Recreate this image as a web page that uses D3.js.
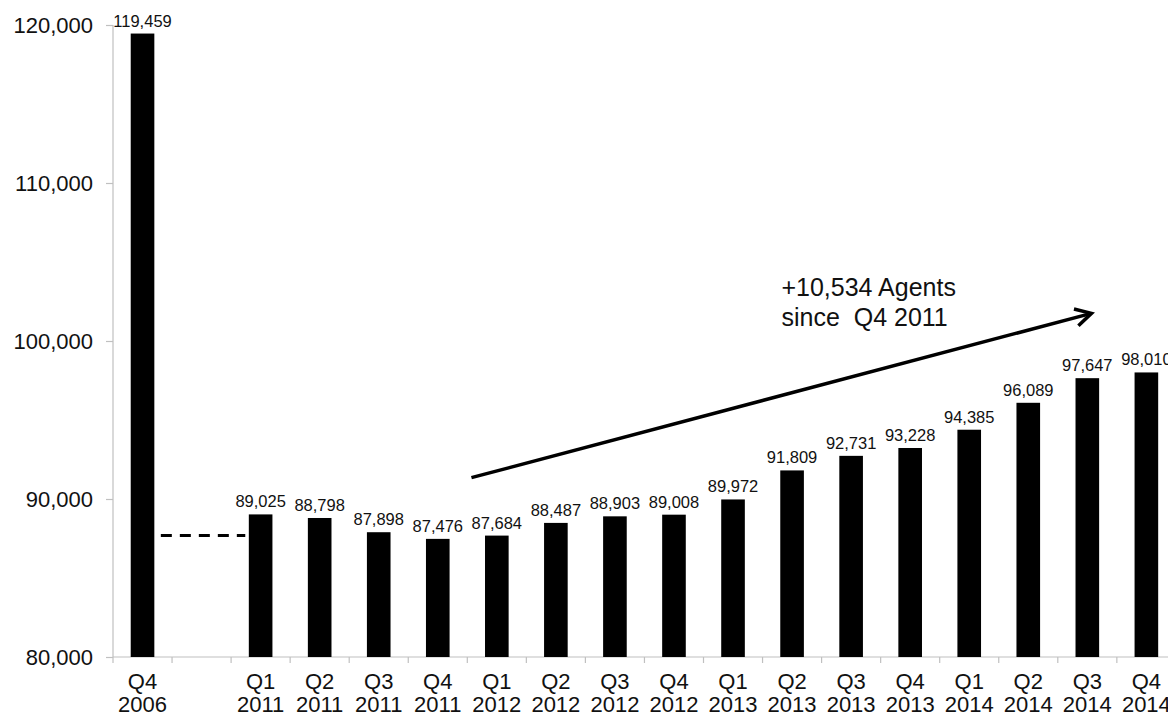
<!DOCTYPE html>
<html>
<head>
<meta charset="utf-8">
<script src="https://cdn.jsdelivr.net/npm/d3@7"></script>
<style>
  html, body { margin: 0; padding: 0; background: #fff; }
  svg { display: block; font-family: "Liberation Sans", Arial, sans-serif; }
</style>
</head>
<body>
<svg id="chart" width="1168" height="717"></svg>
<script>
// ---- data ----
const categories = ["Q4 2006", "gap", "Q1 2011", "Q2 2011", "Q3 2011", "Q4 2011",
  "Q1 2012", "Q2 2012", "Q3 2012", "Q4 2012", "Q1 2013", "Q2 2013", "Q3 2013",
  "Q4 2013", "Q1 2014", "Q2 2014", "Q3 2014", "Q4 2014"];
const quarterLabels = ["Q4", "", "Q1", "Q2", "Q3", "Q4", "Q1", "Q2", "Q3", "Q4",
  "Q1", "Q2", "Q3", "Q4", "Q1", "Q2", "Q3", "Q4"];
const yearLabels = ["2006", "", "2011", "2011", "2011", "2011", "2012", "2012",
  "2012", "2012", "2013", "2013", "2013", "2013", "2014", "2014", "2014", "2014"];
const agents = [119459, null, 89025, 88798, 87898, 87476, 87684, 88487, 88903,
  89008, 89972, 91809, 92731, 93228, 94385, 96089, 97647, 98010];
const yTicks = [80000, 90000, 100000, 110000, 120000];
const referenceLevel = 87684;          // dashed reference line value
const annotationLines = ["+10,534 Agents", "since  Q4 2011"];
// arrow endpoints: [slot position, value]
const arrowStart = [6.07, 91350];
const arrowEnd = [16.57, 101750];
const dashStart = [0.81, referenceLevel];
const dashEnd = [2.24, referenceLevel];
const annotationAt = [11.32, 102850];

// ---- layout ----
const svg = d3.select("#chart");
const plotLeft = 113, slotStep = 59.05, plotTop = 25, plotBottom = 657;
const axisColor = "#c0c0c0";

const x = d3.scaleBand()
  .domain(categories)
  .range([plotLeft, plotLeft + slotStep * categories.length])
  .paddingInner(0.6)
  .paddingOuter(0.3);

const y = d3.scaleLinear().domain([80000, 120000]).range([plotBottom, plotTop]);

// continuous slot position helper built on the band scale
const xs = d3.scaleLinear().domain([0, categories.length]).range(x.range());

// ---- axes ----
const yAxis = svg.append("g").attr("transform", `translate(${plotLeft},0)`)
  .call(d3.axisLeft(y).tickValues(yTicks).tickSize(7).tickPadding(13)
    .tickFormat(d3.format(",")));
yAxis.attr("font-family", null).attr("font-size", null);
yAxis.select(".domain").attr("stroke", axisColor).attr("stroke-width", 1.2)
  .attr("d", `M0,${plotTop}V${plotBottom}`);
yAxis.selectAll(".tick line").attr("stroke", axisColor).attr("stroke-width", 1.2);
yAxis.selectAll(".tick text").attr("font-size", 22).attr("fill", "#111");

const xAxisG = svg.append("g");
xAxisG.append("line")
  .attr("x1", x.range()[0]).attr("x2", x.range()[1])
  .attr("y1", plotBottom).attr("y2", plotBottom)
  .attr("stroke", axisColor).attr("stroke-width", 1.2);
xAxisG.selectAll("line.bt")
  .data(d3.range(categories.length + 1))
  .join("line").attr("class", "bt")
  .attr("x1", i => xs(i)).attr("x2", i => xs(i))
  .attr("y1", plotBottom).attr("y2", plotBottom + 6)
  .attr("stroke", axisColor).attr("stroke-width", 1.2);

const xl = svg.append("g").attr("font-size", 22).attr("fill", "#111")
  .attr("text-anchor", "middle");
categories.forEach((c, i) => {
  const cx = x(c) + x.bandwidth() / 2;
  xl.append("text").attr("x", cx).attr("y", 689).text(quarterLabels[i]);
  xl.append("text").attr("x", cx).attr("y", 712).text(yearLabels[i]);
});

// ---- bars ----
const barData = categories.map((c, i) => ({ c, v: agents[i] })).filter(d => d.v != null);
svg.append("g").selectAll("rect")
  .data(barData)
  .join("rect")
  .attr("x", d => x(d.c))
  .attr("width", x.bandwidth())
  .attr("y", d => y(d.v))
  .attr("height", d => y(80000) - y(d.v))
  .attr("fill", "#000");

svg.append("g").attr("font-size", 16.5).attr("fill", "#111").attr("text-anchor", "middle")
  .selectAll("text")
  .data(barData)
  .join("text")
  .attr("x", d => x(d.c) + x.bandwidth() / 2)
  .attr("y", d => y(d.v) - 7)
  .text(d => d3.format(",")(d.v));

// dashed reference line
svg.append("line")
  .attr("x1", xs(dashStart[0])).attr("y1", y(dashStart[1]))
  .attr("x2", xs(dashEnd[0])).attr("y2", y(dashEnd[1]))
  .attr("stroke", "#000").attr("stroke-width", 3)
  .attr("stroke-dasharray", "11,8");

// arrow
const ax1 = xs(arrowStart[0]), ay1 = y(arrowStart[1]);
const ax2 = xs(arrowEnd[0]), ay2 = y(arrowEnd[1]);
svg.append("line")
  .attr("x1", ax1).attr("y1", ay1).attr("x2", ax2 - 2).attr("y2", ay2 + 0.5)
  .attr("stroke", "#000").attr("stroke-width", 3.5);
const ang = Math.atan2(ay2 - ay1, ax2 - ax1);
const headLen = 18, headAng = 0.5;
const p1 = [ax2 - headLen * Math.cos(ang - headAng), ay2 - headLen * Math.sin(ang - headAng)];
const p2 = [ax2 - headLen * Math.cos(ang + headAng), ay2 - headLen * Math.sin(ang + headAng)];
svg.append("path")
  .attr("d", `M${p1[0]},${p1[1]}L${ax2},${ay2}L${p2[0]},${p2[1]}`)
  .attr("fill", "none").attr("stroke", "#000").attr("stroke-width", 3.5)
  .attr("stroke-linejoin", "miter").attr("stroke-linecap", "butt");

// annotation text
const ann = svg.append("text").attr("font-size", 25).attr("fill", "#111")
  .attr("x", xs(annotationAt[0])).attr("y", y(annotationAt[1]))
  .style("white-space", "pre");
annotationLines.forEach((t, i) => {
  ann.append("tspan").attr("x", xs(annotationAt[0])).attr("dy", i === 0 ? 0 : 30).text(t);
});
</script>
</body>
</html>
